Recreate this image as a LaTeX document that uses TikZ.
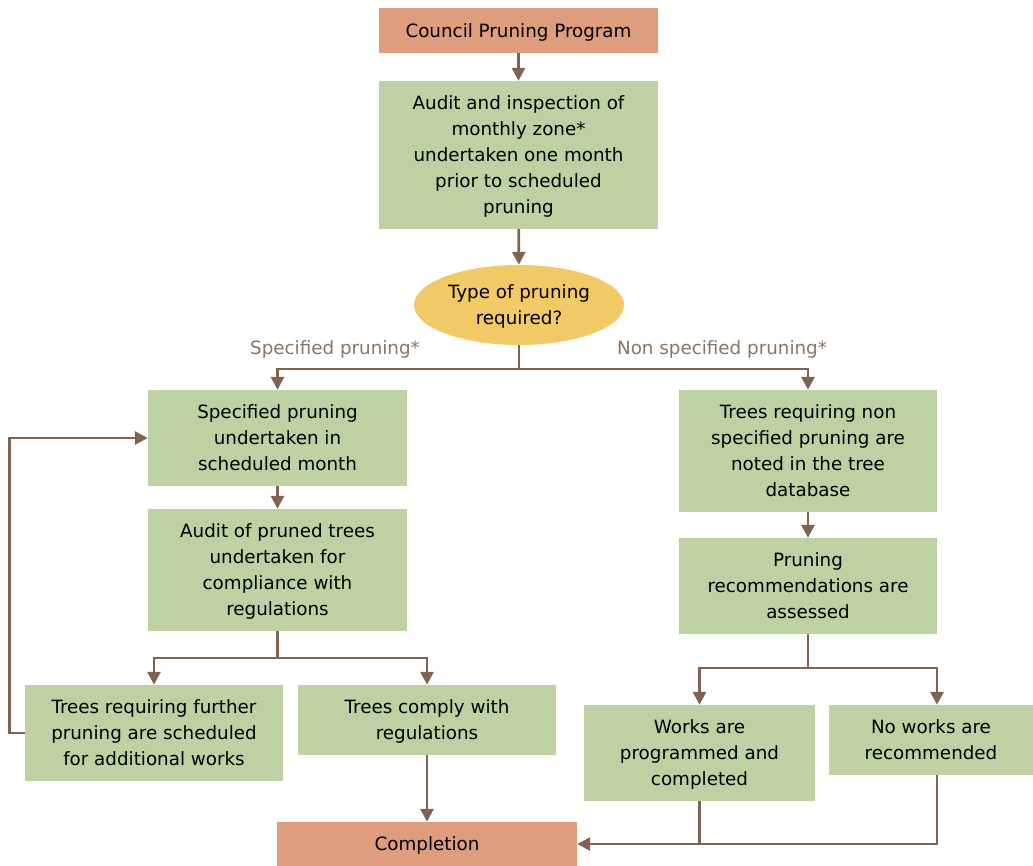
\documentclass[tikz,border=0pt]{standalone}
\usepackage{fontspec}
\setmainfont{DejaVu Sans}
\usetikzlibrary{arrows.meta,shapes.geometric}
\definecolor{boxgreen}{HTML}{BDD1A3}
\definecolor{boxorange}{HTML}{DE9D7D}
\definecolor{boxyellow}{HTML}{F1C966}
\definecolor{linebrown}{HTML}{7E6450}
\definecolor{labelbrown}{HTML}{8C7462}
\tikzset{
  stepbox/.style={fill=boxgreen, align=center, inner sep=0pt, text depth=0pt},
  endbox/.style={fill=boxorange, align=center, inner sep=0pt, text depth=0pt},
  flow/.style={draw=linebrown, line width=2.8pt, -{Triangle[length=13pt,width=13pt]}},
  link/.style={draw=linebrown, line width=2.8pt},
  branch/.style={text=labelbrown}
}
\begin{document}
\begin{tikzpicture}[x=1pt,y=-1pt,font=\fontsize{18.3}{26}\selectfont]
  \useasboundingbox (0,0) rectangle (1033,865);
  % top of the chart
  \node[endbox, minimum width=279pt, minimum height=45pt] (council) at (518.5,30.5) {Council Pruning Program};
  \node[stepbox, minimum width=279pt, minimum height=148pt] (audit) at (518.5,155)
    {Audit and inspection of\\monthly zone*\\undertaken one month\\prior to scheduled\\pruning};
  \node[ellipse, fill=boxyellow, minimum width=210pt, minimum height=80pt, inner sep=0pt, text depth=0pt, align=center] (type) at (519,305)
    {Type of pruning\\required?};
  \coordinate (split) at (519,369);
  % branch labels
  \node[branch] (speclabel) at (335,349) {Specified pruning*};
  \node[branch] (nonspeclabel) at (722,349) {Non specified pruning*};
  % specified pruning side
  \node[stepbox, minimum width=259pt, minimum height=96pt] (spec) at (277.5,438)
    {Specified pruning\\undertaken in\\scheduled month};
  \node[stepbox, minimum width=259pt, minimum height=122pt] (pruned) at (277.5,570)
    {Audit of pruned trees\\undertaken for\\compliance with\\regulations};
  \coordinate (leftsplit) at (277.5,658);
  \node[stepbox, minimum width=258pt, minimum height=96pt] (further) at (154,733)
    {Trees requiring further\\pruning are scheduled\\for additional works};
  \node[stepbox, minimum width=258pt, minimum height=70pt] (comply) at (427,720)
    {Trees comply with\\regulations};
  \node[endbox, minimum width=300pt, minimum height=44pt] (completion) at (427,844) {Completion};
  % non specified pruning side
  \node[stepbox, minimum width=258pt, minimum height=122pt] (nonspec) at (808,451)
    {Trees requiring non\\specified pruning are\\noted in the tree\\database};
  \node[stepbox, minimum width=258pt, minimum height=96pt] (assess) at (808,586)
    {Pruning\\recommendations are\\assessed};
  \coordinate (rightsplit) at (808,668);
  \node[stepbox, minimum width=231pt, minimum height=96pt] (works) at (699.5,753)
    {Works are\\programmed and\\completed};
  \node[stepbox, minimum width=204pt, minimum height=70pt] (noworks) at (931,740)
    {No works are\\recommended};
  % connectors
  \draw[flow] (council) -- (audit);
  \draw[flow] (audit) -- (type);
  \draw[link] (type.south) -- (split);
  \draw[flow] (split) -| (spec);
  \draw[flow] (split) -| (nonspec);
  \draw[flow] (spec) -- (pruned);
  \draw[link] (pruned) -- (leftsplit);
  \draw[flow] (leftsplit) -| (further);
  \draw[flow] (leftsplit) -| (comply);
  \draw[flow] (further.west) -- ++(-15,0) |- (spec.west);
  \draw[flow] (comply) -- (completion);
  \draw[flow] (nonspec) -- (assess);
  \draw[link] (assess) -- (rightsplit);
  \draw[flow] (rightsplit) -| (works);
  \draw[flow] (rightsplit) -| ([xshift=6pt]noworks.north);
  \draw[flow] ([xshift=6pt]noworks.south) |- (completion.east);
  \draw[link] (works.south) -- (works.south |- completion.east);
\end{tikzpicture}
\end{document}
